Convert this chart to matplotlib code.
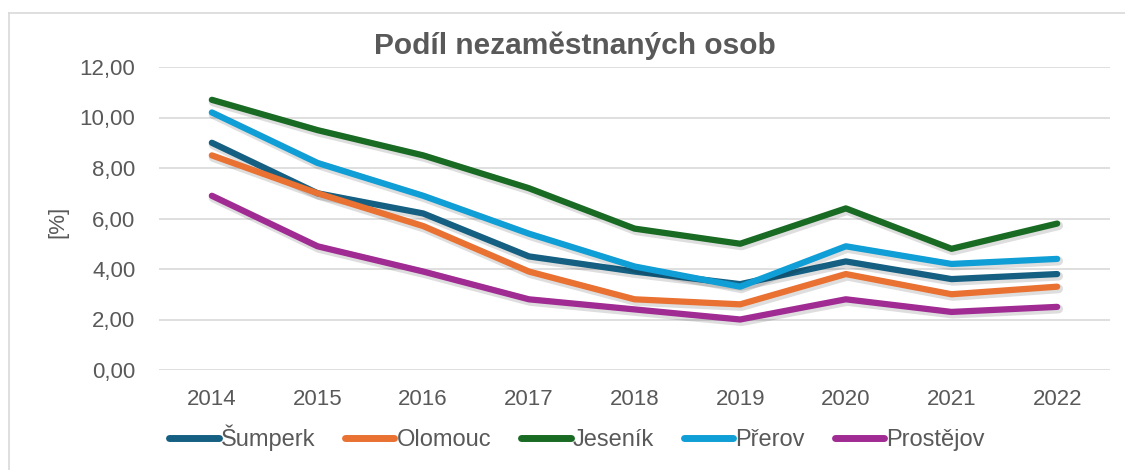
import matplotlib
matplotlib.use("Agg")
import matplotlib.pyplot as plt
import matplotlib.patheffects as pe
from matplotlib.lines import Line2D
from matplotlib.ticker import FuncFormatter

years = [2014, 2015, 2016, 2017, 2018, 2019, 2020, 2021, 2022]
sumperk = [9.0, 7.0, 6.2, 4.5, 3.9, 3.4, 4.3, 3.6, 3.8]
olomouc = [8.5, 7.0, 5.7, 3.9, 2.8, 2.6, 3.8, 3.0, 3.3]
jesenik = [10.7, 9.5, 8.5, 7.2, 5.6, 5.0, 6.4, 4.8, 5.8]
prerov = [10.2, 8.2, 6.9, 5.4, 4.1, 3.3, 4.9, 4.2, 4.4]
prostejov = [6.9, 4.9, 3.9, 2.8, 2.4, 2.0, 2.8, 2.3, 2.5]

series_names = ["Šumperk", "Olomouc", "Jeseník", "Přerov", "Prostějov"]
series_values = [sumperk, olomouc, jesenik, prerov, prostejov]
colors = ["#156082", "#E97132", "#196B24", "#0F9ED5", "#A02B93"]
y_ticks = [0, 2, 4, 6, 8, 10, 12]

plt.rcParams['font.family'] = ['Liberation Sans', 'DejaVu Sans']
txt = "#595959"

fig = plt.figure(figsize=(11.25, 4.7), dpi=100)
# chart border (left and top edges visible; right/bottom run off the image)
fig.add_artist(Line2D([9/1125, 9/1125], [0, 1 - 13/470], transform=fig.transFigure,
                      color="#D9D9D9", linewidth=1.2))
fig.add_artist(Line2D([9/1125, 1], [1 - 13/470, 1 - 13/470], transform=fig.transFigure,
                      color="#D9D9D9", linewidth=1.2))

ax = fig.add_axes([159/1125, 100/470, 951/1125, 303/470])

shadow = [pe.SimpleLineShadow(offset=(1.0, -1.5), shadow_color="black", alpha=0.13, linewidth=6.5),
          pe.Normal()]
for name, vals, c in zip(series_names, series_values, colors):
    ax.plot(years, vals, color=c, linewidth=4.5, label=name,
            solid_capstyle="round", solid_joinstyle="round", path_effects=shadow)

ax.set_xlim(2013.5, 2022.5)
ax.set_ylim(0, 12)
ax.set_yticks(y_ticks)
ax.set_xticks(years)
ax.yaxis.set_major_formatter(FuncFormatter(lambda v, p: f"{v:.2f}".replace(".", ",")))
ax.grid(axis="y", color="#D9D9D9", linewidth=1.2)
ax.set_axisbelow(True)
for s in ax.spines.values():
    s.set_visible(False)
ax.tick_params(axis="both", length=0, labelsize=16, labelcolor=txt)
ax.tick_params(axis="y", pad=17)
ax.tick_params(axis="x", pad=14)

fig.text(58/1125, 1 - 222/470, "[%]", rotation=90, ha="center", va="center", fontsize=16, color=txt)
fig.text(575/1125, 1 - 46/470, "Podíl nezaměstnaných osob", ha="center", va="center",
         fontsize=21.5, fontweight="bold", color=txt)

leg = fig.legend(loc="center", bbox_to_anchor=(577/1125, 1 - 438/470), ncol=5, frameon=False,
                 fontsize=17, handlelength=2.1, handletextpad=0.1, columnspacing=1.25,
                 labelcolor=txt)
for h in leg.legend_handles:
    h.set_path_effects([])
    h.set_linewidth(5)
    h.set_solid_capstyle("round")

fig.savefig("out.png", dpi=100)
